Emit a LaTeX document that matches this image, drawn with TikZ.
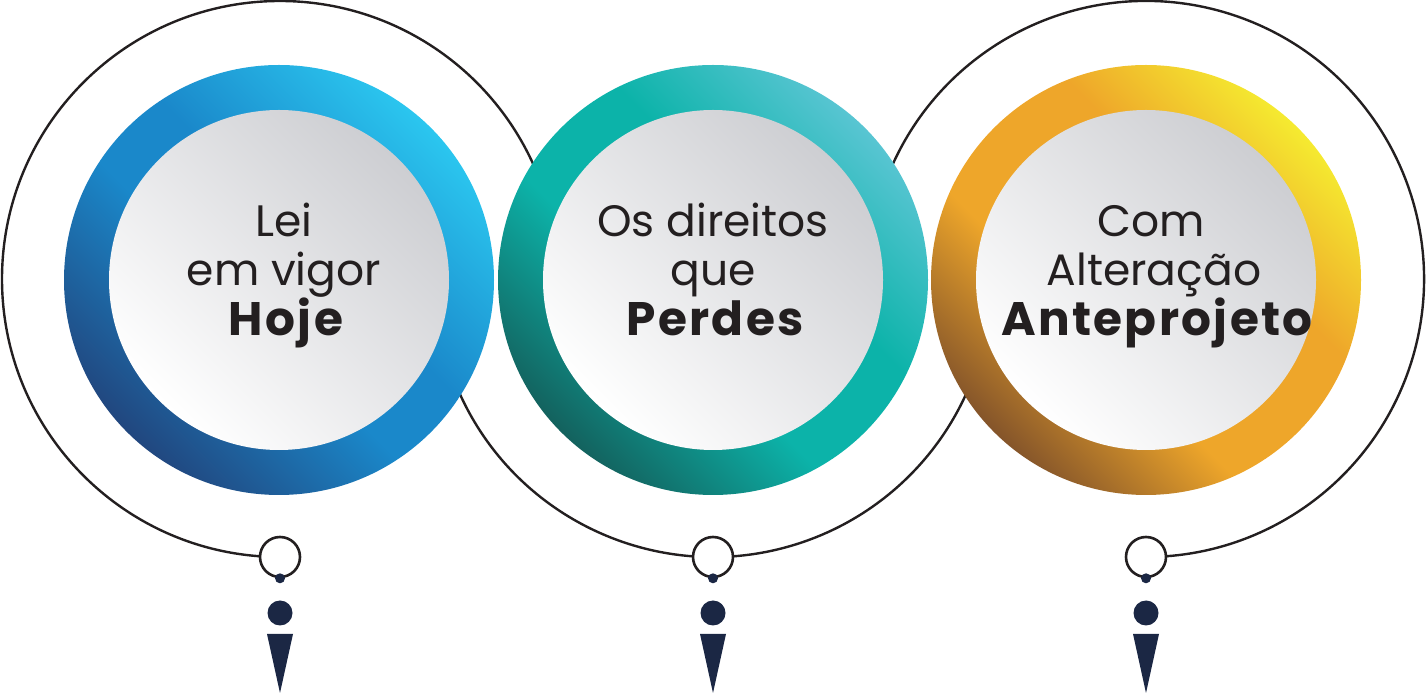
\documentclass[tikz,border=0pt]{standalone}
\usepackage{fontspec}
\setmainfont{Poppins}
\usetikzlibrary{positioning}
\definecolor{ink}{HTML}{231F20}
\definecolor{navy}{HTML}{1B2744}
\definecolor{blueD}{HTML}{21477F}
\definecolor{blueM}{HTML}{1A88CA}
\definecolor{blueL}{HTML}{2BC6EF}
\definecolor{tealD}{HTML}{13625E}
\definecolor{tealM}{HTML}{0CB3A9}
\definecolor{tealL}{HTML}{58C5D2}
\definecolor{goldD}{HTML}{85552A}
\definecolor{goldM}{HTML}{EEA62A}
\definecolor{goldL}{HTML}{F5EA30}
\definecolor{discL}{HTML}{CDCED2}

\pgfdeclarehorizontalshading{bluering}{100bp}{color(0bp)=(blueD); color(25bp)=(blueD); color(45bp)=(blueM); color(55bp)=(blueM); color(75bp)=(blueL); color(100bp)=(blueL)}
\pgfdeclarehorizontalshading{tealring}{100bp}{color(0bp)=(tealD); color(25bp)=(tealD); color(43bp)=(tealM); color(58bp)=(tealM); color(75bp)=(tealL); color(100bp)=(tealL)}
\pgfdeclarehorizontalshading{goldring}{100bp}{color(0bp)=(goldD); color(25bp)=(goldD); color(41bp)=(goldM); color(60bp)=(goldM); color(75bp)=(goldL); color(100bp)=(goldL)}

\begin{document}
\begin{tikzpicture}[
  x=1pt, y=1pt,
  outline/.style={line width=2.4pt, draw=ink},
  ring/.style={shading=#1, shading angle=45},
  disc/.style={top color=discL, bottom color=white, shading angle=-45},
  light/.style={anchor=base, inner sep=0pt, text=ink, font=\fontsize{44}{50}\selectfont},
  heavy/.style={anchor=base, inner sep=0pt, text=ink, font=\fontsize{47}{50}\selectfont\bfseries\addfontfeature{LetterSpace=5}},
  hole/.style={circle, draw=ink, line width=2.6pt, fill=white, minimum size=40pt, inner sep=0pt},
  knob/.style={circle, fill=navy, inner sep=0pt},
]
\useasboundingbox (0,0) rectangle (1427,693);

% centres of the three stages
\coordinate (cA) at (280,414);
\coordinate (cB) at (713,414);
\coordinate (cC) at (1146,414);

% thin outline loops
\draw[outline] (cA) ++(270:278) arc[start angle=270, end angle=10, radius=278];
\draw[outline] (cB) ++(200:278) arc[start angle=200, end angle=340, radius=278];
\draw[outline] (cC) ++(160:278) arc[start angle=160, end angle=-90, radius=278];

% coloured rings
\shade[ring=bluering] (279,413) circle (215);
\shade[disc] (279,413) circle (170);
\shade[ring=tealring] (713,413) circle (215);
\shade[disc] (713,413) circle (170);
\shade[ring=goldring] (1146,413) circle (215);
\shade[disc] (1146,413) circle (170);

% labels
\node[light] (leiA) at (284,456) {Lei};
\node[light] (vigorA) at (284,407) {em vigor};
\node[heavy] (hojeA) at (286,357) {Hoje};

\node[light] (dirB) at (713,456) {Os direitos};
\node[light] (queB) at (713,407) {que};
\node[heavy] (perdB) at (715,357) {Perdes};

\node[light] (comC) at (1151,456) {Com};
\node[light] (altC) at (1154,407) {Alteração};
\node[heavy] (anteC) at (1157,357) {Anteprojeto};

% pins
\node[hole] (holeA) at (280,136) {};
\node[hole] (holeB) at (713,136) {};
\node[hole] (holeC) at (1146,136) {};

\node[knob, minimum size=10pt] (dotA) at (holeA.south) {};
\node[knob, minimum size=10pt] (dotB) at (holeB.south) {};
\node[knob, minimum size=10pt] (dotC) at (holeC.south) {};

\node[knob, minimum size=25pt] (headA) at (280,80) {};
\node[knob, minimum size=25pt] (headB) at (713,80) {};
\node[knob, minimum size=25pt] (headC) at (1146,80) {};

\fill[navy] (267,59) -- (293,59) -- (280,0) -- cycle;
\fill[navy] (700,59) -- (726,59) -- (713,0) -- cycle;
\fill[navy] (1133,59) -- (1159,59) -- (1146,0) -- cycle;

\end{tikzpicture}
\end{document}
